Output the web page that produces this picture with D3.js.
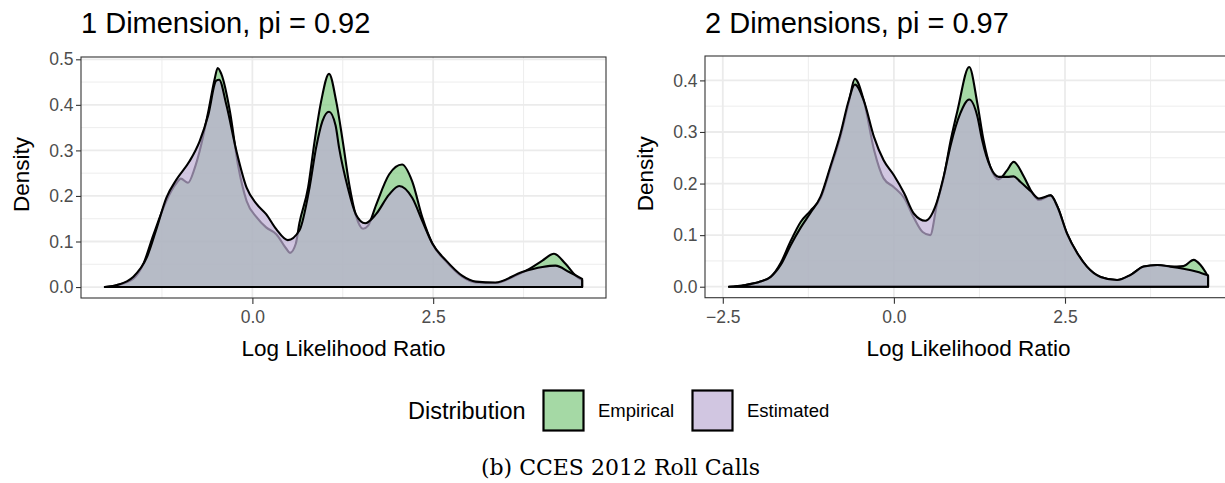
<!DOCTYPE html>
<html><head><meta charset="utf-8">
<script src="https://cdn.jsdelivr.net/npm/d3@7"></script>
<style>
body{margin:0;background:#fff;}
svg{display:block;}
text{font-family:"Liberation Sans",Arial,Helvetica,sans-serif;}
</style>
</head><body>
<svg id="chart" width="1225" height="483"></svg>
<script>
// ---------- data ----------
const seriesNames = ["Empirical", "Estimated"];
const seriesColors = ["#7FC97F", "#BEAED4"];
const panelTitles = ["1 Dimension, pi = 0.92", "2 Dimensions, pi = 0.97"];
const xAxisTitle = "Log Likelihood Ratio";
const yAxisTitle = "Density";
const legendTitle = "Distribution";
const caption = "(b) CCES 2012 Roll Calls";
const xTickValues = [-2.5, 0, 2.5];
const yTickValues1 = [0, 0.1, 0.2, 0.3, 0.4, 0.5];
const yTickValues2 = [0, 0.1, 0.2, 0.3, 0.4];

// Panel 1: 1 Dimension
const p1EmpX = [-2.04,-1.88,-1.65,-1.51,-1.37,-1.19,-1.05,-0.99,-0.89,-0.80,-0.73,-0.61,-0.52,-0.48,-0.43,-0.31,-0.20,-0.08,0.06,0.19,0.33,0.47,0.52,0.60,0.65,0.77,0.86,0.95,1.06,1.16,1.25,1.34,1.43,1.53,1.60,1.71,1.89,2.07,2.21,2.35,2.49,2.68,2.90,3.09,3.36,3.64,3.83,4.01,4.17,4.33,4.47,4.56];
const p1EmpY = [0,0.004,0.018,0.050,0.114,0.189,0.228,0.238,0.229,0.260,0.298,0.385,0.458,0.481,0.468,0.385,0.269,0.189,0.153,0.131,0.116,0.084,0.075,0.095,0.140,0.218,0.320,0.407,0.468,0.407,0.320,0.225,0.158,0.128,0.135,0.180,0.247,0.269,0.232,0.153,0.095,0.056,0.023,0.010,0.009,0.025,0.040,0.058,0.073,0.051,0.025,0.015];
const p1EstX = [-2.04,-1.88,-1.65,-1.46,-1.32,-1.19,-1.05,-0.87,-0.73,-0.61,-0.50,-0.46,-0.36,-0.22,-0.08,0.06,0.19,0.33,0.49,0.65,0.79,0.88,0.97,1.06,1.15,1.20,1.32,1.43,1.56,1.71,1.89,2.03,2.21,2.35,2.49,2.68,2.90,3.09,3.36,3.73,4.01,4.19,4.38,4.56];
const p1EstY = [0,0.004,0.022,0.065,0.131,0.196,0.236,0.276,0.320,0.378,0.453,0.455,0.400,0.298,0.218,0.182,0.160,0.127,0.103,0.124,0.218,0.305,0.365,0.385,0.355,0.305,0.218,0.160,0.140,0.160,0.203,0.222,0.196,0.145,0.095,0.058,0.025,0.012,0.010,0.033,0.044,0.047,0.033,0.018];

// Panel 2: 2 Dimensions
const p2EmpX = [-2.41,-2.19,-1.95,-1.80,-1.65,-1.51,-1.36,-1.22,-1.07,-0.93,-0.78,-0.66,-0.57,-0.44,-0.29,-0.15,0.00,0.15,0.29,0.42,0.53,0.63,0.73,0.83,0.93,1.10,1.22,1.31,1.41,1.53,1.65,1.75,1.90,2.00,2.12,2.29,2.39,2.53,2.68,2.82,3.02,3.26,3.46,3.65,3.85,4.04,4.23,4.38,4.48,4.55,4.59];
const p2EmpY = [0,0.003,0.010,0.019,0.047,0.088,0.126,0.147,0.172,0.228,0.292,0.357,0.403,0.361,0.265,0.210,0.193,0.172,0.134,0.106,0.100,0.161,0.213,0.284,0.342,0.426,0.355,0.284,0.232,0.208,0.225,0.242,0.213,0.187,0.168,0.177,0.155,0.103,0.065,0.039,0.019,0.013,0.023,0.039,0.042,0.039,0.040,0.052,0.042,0.029,0.020];
const p2EstX = [-2.41,-2.19,-1.95,-1.80,-1.65,-1.51,-1.36,-1.22,-1.07,-0.93,-0.78,-0.66,-0.57,-0.44,-0.29,-0.15,0.00,0.15,0.29,0.46,0.63,0.73,0.83,0.97,1.10,1.22,1.29,1.41,1.53,1.66,1.75,1.85,2.00,2.12,2.29,2.39,2.53,2.68,2.82,3.02,3.26,3.46,3.65,3.85,4.04,4.23,4.43,4.59];
const p2EstY = [0,0.003,0.010,0.019,0.043,0.080,0.115,0.143,0.175,0.232,0.297,0.361,0.392,0.361,0.290,0.245,0.216,0.181,0.142,0.128,0.165,0.215,0.275,0.336,0.363,0.330,0.284,0.232,0.213,0.213,0.214,0.203,0.185,0.171,0.177,0.155,0.103,0.065,0.039,0.019,0.013,0.023,0.039,0.042,0.039,0.035,0.029,0.022];

// ---------- layout ----------
const svg = d3.select("#chart");
const FONT_TITLE = 29, FONT_AXT = 22.5, FONT_TICK = 17.5;

const panels = [
  {title: panelTitles[0], left: 81, right: 606, top: 57, bottom: 298, yTicks: yTickValues1,
   series: [{x: p1EmpX, y: p1EmpY}, {x: p1EstX, y: p1EstY}]},
  {title: panelTitles[1], left: 705, right: 1232, top: 56, bottom: 297.7, yTicks: yTickValues2,
   series: [{x: p2EmpX, y: p2EmpY}, {x: p2EstX, y: p2EstY}]}
];

panels.forEach(p => {
  const allX = p.series.flatMap(s => s.x);
  const allY = p.series.flatMap(s => s.y);
  const [x0, x1] = d3.extent(allX);
  const xPad = (x1 - x0) * 0.05;
  const yMax = d3.max(allY);
  const x = d3.scaleLinear().domain([x0 - xPad, x1 + xPad]).range([p.left, p.right]);
  const y = d3.scaleLinear().domain([-0.05 * yMax, yMax * 1.05]).range([p.bottom, p.top]);
  const g = svg.append("g");

  g.append("rect").attr("x", p.left).attr("y", p.top)
    .attr("width", p.right - p.left).attr("height", p.bottom - p.top).attr("fill", "#fff");

  const xd = x.domain(), yd = y.domain();
  const xMinor = d3.range(-3.75, 6, 2.5).filter(v => v > xd[0] && v < xd[1]);
  const yMinor = d3.range(0.05, 0.6, 0.1).filter(v => v > yd[0] && v < yd[1]);
  const xMajor = xTickValues.filter(v => v > xd[0] && v < xd[1]);
  g.selectAll(".vmin").data(xMinor).enter().append("line")
    .attr("x1", d => x(d)).attr("x2", d => x(d)).attr("y1", p.top).attr("y2", p.bottom)
    .attr("stroke", "#ebebeb").attr("stroke-width", 0.9);
  g.selectAll(".hmin").data(yMinor).enter().append("line")
    .attr("y1", d => y(d)).attr("y2", d => y(d)).attr("x1", p.left).attr("x2", p.right)
    .attr("stroke", "#ebebeb").attr("stroke-width", 0.9);
  g.selectAll(".vmaj").data(xMajor).enter().append("line")
    .attr("x1", d => x(d)).attr("x2", d => x(d)).attr("y1", p.top).attr("y2", p.bottom)
    .attr("stroke", "#ebebeb").attr("stroke-width", 1.8);
  g.selectAll(".hmaj").data(p.yTicks).enter().append("line")
    .attr("y1", d => y(d)).attr("y2", d => y(d)).attr("x1", p.left).attr("x2", p.right)
    .attr("stroke", "#ebebeb").attr("stroke-width", 1.8);

  const area = d3.area().x(d => x(d[0])).y0(y(0)).y1(d => y(d[1])).curve(d3.curveMonotoneX);
  p.series.forEach((s, i) => {
    const pts = s.x.map((v, k) => [v, s.y[k]]);
    g.append("path").attr("d", area(pts))
      .attr("fill", seriesColors[i]).attr("fill-opacity", 0.7)
      .attr("stroke", "#000").attr("stroke-width", 2.1).attr("stroke-linejoin", "round");
  });

  g.append("rect").attr("x", p.left).attr("y", p.top)
    .attr("width", p.right - p.left).attr("height", p.bottom - p.top)
    .attr("fill", "none").attr("stroke", "#333").attr("stroke-width", 1.1);

  const ax = g.append("g").attr("transform", `translate(0,${p.bottom})`)
    .call(d3.axisBottom(x).tickValues(xMajor).tickFormat(d3.format(".1f")).tickSize(6).tickPadding(7));
  const ay = g.append("g").attr("transform", `translate(${p.left},0)`)
    .call(d3.axisLeft(y).tickValues(p.yTicks).tickFormat(d3.format(".1f")).tickSize(5).tickPadding(2.5));
  [ax, ay].forEach(a => {
    a.select(".domain").remove();
    a.selectAll("line").attr("stroke", "#333").attr("stroke-width", 1.1);
    a.selectAll("text").attr("fill", "#4d4d4d").style("font-size", FONT_TICK + "px")
      .style("font-family", '"Liberation Sans",Arial,sans-serif');
  });

  svg.append("text").attr("x", p.left).attr("y", 33).text(p.title)
    .style("font-size", FONT_TITLE + "px").attr("fill", "#000");
  svg.append("text").attr("x", (p.left + p.right) / 2).attr("y", 356)
    .attr("text-anchor", "middle").text(xAxisTitle)
    .style("font-size", FONT_AXT + "px").attr("fill", "#000");
  svg.append("text").attr("transform", `translate(${p.left - 52.5},${(p.top + p.bottom) / 2 - 3}) rotate(-90)`)
    .attr("text-anchor", "middle").text(yAxisTitle)
    .style("font-size", FONT_AXT + "px").attr("fill", "#000");
});

// ---------- legend ----------
const legend = svg.append("g");
const legendCy = 410.5;
legend.append("text").attr("x", 408).attr("y", legendCy).attr("dy", "0.36em")
  .text(legendTitle).style("font-size", "23.5px").attr("fill", "#000");
const legendKeyX = [543.5, 692.5];
const legendLabelX = [598, 747];
seriesNames.forEach((name, i) => {
  legend.append("rect").attr("x", legendKeyX[i]).attr("y", legendCy - 20)
    .attr("width", 40).attr("height", 40)
    .attr("fill", seriesColors[i]).attr("fill-opacity", 0.7)
    .attr("stroke", "#000").attr("stroke-width", 2.2);
  legend.append("text").attr("x", legendLabelX[i]).attr("y", legendCy).attr("dy", "0.36em")
    .text(name).style("font-size", "18.5px").attr("fill", "#000");
});

// ---------- caption ----------
svg.append("text").attr("x", 620.5).attr("y", 475).attr("text-anchor", "middle")
  .text(caption).style("font-family", '"DejaVu Serif",serif').style("font-size", "22px")
  .attr("fill", "#000");
</script>
</body></html>
